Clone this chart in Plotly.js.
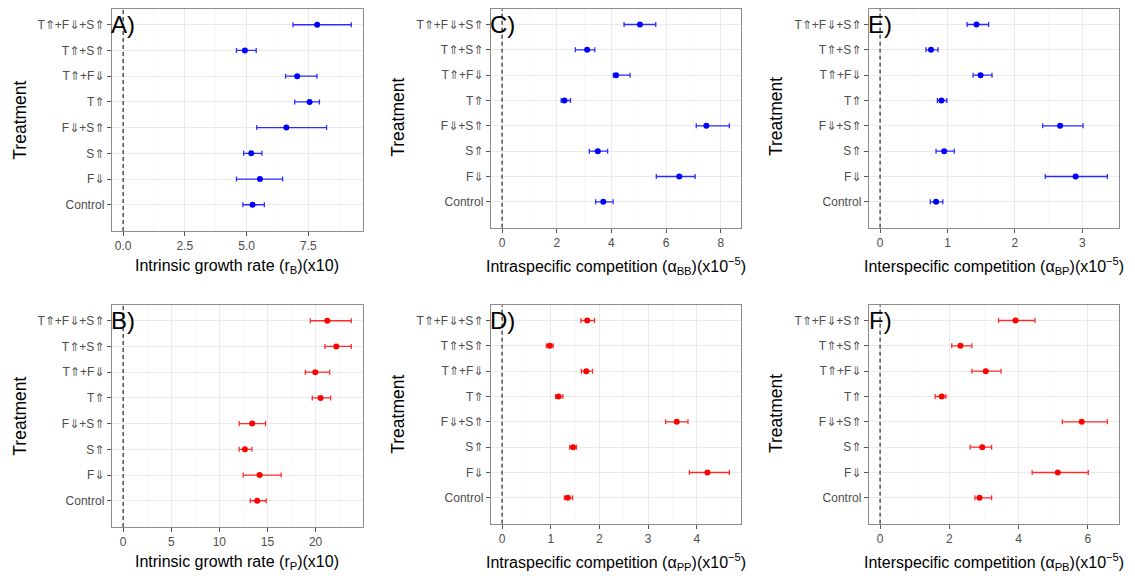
<!DOCTYPE html>
<html>
<head>
<meta charset="utf-8">
<script src="https://cdn.plot.ly/plotly-3.0.1.min.js"></script>
<style>
  html, body { margin: 0; padding: 0; background: #ffffff; }
  #chart { width: 1135px; height: 576px; }
</style>
</head>
<body>
<div id="chart"></div>
<script>
// Treatments, listed from the bottom row of each panel to the top row
const treatments = ["Control", "F⇓", "S⇑", "F⇓+S⇑", "T⇑", "T⇑+F⇓", "T⇑+S⇑", "T⇑+F⇓+S⇑"];

// Intrinsic growth rate of B (x10): estimate and interval bounds
const rB_est = [5.24, 5.54, 5.19, 6.61, 7.55, 7.05, 4.93, 7.86];
const rB_lo  = [4.85, 4.59, 4.88, 5.41, 6.95, 6.58, 4.59, 6.88];
const rB_hi  = [5.72, 6.46, 5.62, 8.24, 7.95, 7.85, 5.39, 9.24];

// Intrinsic growth rate of P (x10)
const rP_est = [13.93, 14.18, 12.65, 13.41, 20.52, 19.97, 22.15, 21.21];
const rP_lo  = [13.21, 12.48, 12.06, 12.06, 19.65, 18.93, 20.97, 19.45];
const rP_hi  = [14.87, 16.43, 13.38, 14.80, 21.56, 21.46, 23.71, 23.71];

// Intraspecific competition alpha_BB (x10^-5)
const aBB_est = [3.70, 6.48, 3.50, 7.47, 2.28, 4.17, 3.11, 5.04];
const aBB_lo  = [3.42, 5.64, 3.19, 7.10, 2.16, 4.07, 2.68, 4.46];
const aBB_hi  = [4.06, 7.06, 3.86, 8.31, 2.50, 4.68, 3.39, 5.62];

// Intraspecific competition alpha_PP (x10^-5)
const aPP_est = [1.35, 4.22, 1.46, 3.59, 1.16, 1.73, 0.98, 1.75];
const aPP_lo  = [1.28, 3.85, 1.39, 3.36, 1.10, 1.63, 0.91, 1.62];
const aPP_hi  = [1.45, 4.67, 1.53, 3.82, 1.25, 1.86, 1.05, 1.90];

// Interspecific competition alpha_BP (x10^-5)
const aBP_est = [0.83, 2.90, 0.95, 2.67, 0.91, 1.49, 0.755, 1.43];
const aBP_lo  = [0.745, 2.45, 0.83, 2.41, 0.85, 1.38, 0.68, 1.29];
const aBP_hi  = [0.93, 3.37, 1.10, 3.01, 0.99, 1.66, 0.86, 1.61];

// Interspecific competition alpha_PB (x10^-5)
const aPB_est = [2.87, 5.13, 2.95, 5.82, 1.78, 3.05, 2.32, 3.91];
const aPB_lo  = [2.74, 4.39, 2.60, 5.26, 1.59, 2.65, 2.07, 3.42];
const aPB_hi  = [3.22, 6.01, 3.22, 6.56, 1.90, 3.49, 2.65, 4.47];

// Panel letters and x-axis titles
const panelLetters = ["A)", "B)", "C)", "D)", "E)", "F)"];
const xTitles = [
  "Intrinsic growth rate (r<sub>B</sub>)(x10)",
  "Intrinsic growth rate (r<sub>P</sub>)(x10)",
  "Intraspecific competition (α<sub>BB</sub>)(x10<sup>−5</sup>)",
  "Intraspecific competition (α<sub>PP</sub>)(x10<sup>−5</sup>)",
  "Interspecific competition (α<sub>BP</sub>)(x10<sup>−5</sup>)",
  "Interspecific competition (α<sub>PB</sub>)(x10<sup>−5</sup>)"
];
const yTitle = "Treatment";

// ---- layout helpers (pixel geometry of the 2 x 3 grid) ----
const W = 1135, H = 576;
const BLUE = "#0000ff", RED = "#ff0000";
const BLUE_BAR = "rgba(0,0,255,0.82)", RED_BAR = "rgba(255,0,0,0.82)";

const panels = [
  {est: rB_est,  lo: rB_lo,  hi: rB_hi,  pt: BLUE, bar: BLUE_BAR, box: [111.7, 362.7, 9.3, 231.0],   dtick: 2.5, fmt: ".1f", titleY: 266, yTitleX: 19.7,  yTitleY: 120},
  {est: rP_est,  lo: rP_lo,  hi: rP_hi,  pt: RED,  bar: RED_BAR,  box: [111.7, 362.7, 305.3, 527.0], dtick: 5,   fmt: "d",   titleY: 562, yTitleX: 19.7,  yTitleY: 416},
  {est: aBB_est, lo: aBB_lo, hi: aBB_hi, pt: BLUE, bar: BLUE_BAR, box: [490.7, 740.7, 9.3, 227.7],   dtick: 2,   fmt: "d",   titleY: 266, yTitleX: 397.8, yTitleY: 117},
  {est: aPP_est, lo: aPP_lo, hi: aPP_hi, pt: RED,  bar: RED_BAR,  box: [490.7, 740.7, 305.3, 523.7], dtick: 1,   fmt: "d",   titleY: 562, yTitleX: 397.8, yTitleY: 414},
  {est: aBP_est, lo: aBP_lo, hi: aBP_hi, pt: BLUE, bar: BLUE_BAR, box: [868.7, 1118.7, 9.3, 227.7],  dtick: 1,   fmt: "d",   titleY: 266, yTitleX: 776,   yTitleY: 117},
  {est: aPB_est, lo: aPB_lo, hi: aPB_hi, pt: RED,  bar: RED_BAR,  box: [868.7, 1118.7, 305.3, 523.7],dtick: 2,   fmt: "d",   titleY: 562, yTitleX: 776,   yTitleY: 414}
];

// Liberation Sans has no double arrows, so DejaVu Sans supplies ⇑ and ⇓
const FONT = "Liberation Sans, DejaVu Sans, Arial, sans-serif";
const traces = [];
const shapes = [];
const annotations = [];
const layout = {
  width: W, height: H,
  margin: {l: 0, r: 0, t: 0, b: 0, pad: 0},
  paper_bgcolor: "#ffffff",
  plot_bgcolor: "#ffffff",
  showlegend: false,
  font: {family: FONT, size: 12, color: "#4d4d4d"}
};

panels.forEach((p, i) => {
  const n = i + 1;
  const xa = n === 1 ? "x" : "x" + n;
  const ya = n === 1 ? "y" : "y" + n;
  const xKey = n === 1 ? "xaxis" : "xaxis" + n;
  const yKey = n === 1 ? "yaxis" : "yaxis" + n;

  // point estimates with asymmetric interval bars
  traces.push({
    type: "scatter",
    mode: "markers",
    x: p.est,
    y: treatments,
    xaxis: xa, yaxis: ya,
    marker: {color: p.pt, size: 6, line: {width: 0}},
    error_x: {
      type: "data",
      symmetric: false,
      array: p.hi.map((h, k) => h - p.est[k]),
      arrayminus: p.lo.map((l, k) => p.est[k] - l),
      color: p.bar,
      thickness: 1.3,
      width: 2.5
    },
    hoverinfo: "x+y"
  });

  // x range: from zero to the largest upper bound, padded by 5% each side
  const xmax = Math.max(...p.hi);
  const [x0, x1, top, bottom] = p.box;

  layout[xKey] = {
    domain: [x0 / W, x1 / W],
    anchor: ya,
    range: [-0.05 * xmax, 1.05 * xmax],
    tick0: 0, dtick: p.dtick, tickformat: p.fmt,
    ticks: "outside", ticklen: 4, tickwidth: 1, tickcolor: "#555555",
    tickfont: {family: FONT, size: 12, color: "#4d4d4d"},
    showgrid: true, gridcolor: "#ebebeb", gridwidth: 1,
    minor: {dtick: p.dtick / 2, showgrid: true, gridcolor: "#f5f5f5", gridwidth: 0.6},
    zeroline: false,
    showline: true, mirror: true, linecolor: "#8c8c8c", linewidth: 1,
    fixedrange: true
  };
  layout[yKey] = {
    domain: [1 - bottom / H, 1 - top / H],
    anchor: xa,
    type: "category",
    categoryorder: "array",
    categoryarray: treatments,
    range: [-1.02, 7.6],
    ticks: "outside", ticklen: 4, tickwidth: 1, tickcolor: "#555555",
    tickfont: {family: FONT, size: 12, color: "#4d4d4d"},
    showgrid: true, gridcolor: "#ebebeb", gridwidth: 1,
    zeroline: false,
    showline: true, mirror: true, linecolor: "#8c8c8c", linewidth: 1,
    fixedrange: true
  };

  // dashed reference line at zero
  shapes.push({
    type: "line", xref: xa, yref: ya + " domain",
    x0: 0, x1: 0, y0: 0, y1: 1,
    line: {color: "#000000", width: 1, dash: "4px,3px"},
    layer: "above"
  });

  // panel letter centred on zero at the top row
  annotations.push({
    xref: xa, yref: ya, x: 0, y: treatments[treatments.length - 1],
    text: panelLetters[i], showarrow: false,
    xanchor: "center", yanchor: "middle",
    font: {family: FONT, size: 24, color: "#000000"}
  });

  // axis titles
  annotations.push({
    xref: "paper", yref: "paper",
    x: ((x0 + x1) / 2) / W, y: 1 - p.titleY / H,
    text: xTitles[i], showarrow: false,
    xanchor: "center", yanchor: "middle",
    font: {family: FONT, size: 16, color: "#000000"}
  });
  annotations.push({
    xref: "paper", yref: "paper",
    x: p.yTitleX / W, y: 1 - p.yTitleY / H,
    text: yTitle, showarrow: false, textangle: -90,
    xanchor: "center", yanchor: "middle",
    font: {family: FONT, size: 17.5, color: "#000000"}
  });
});

layout.shapes = shapes;
layout.annotations = annotations;

Plotly.newPlot("chart", traces, layout, {displayModeBar: false, staticPlot: true});
</script>
</body>
</html>
